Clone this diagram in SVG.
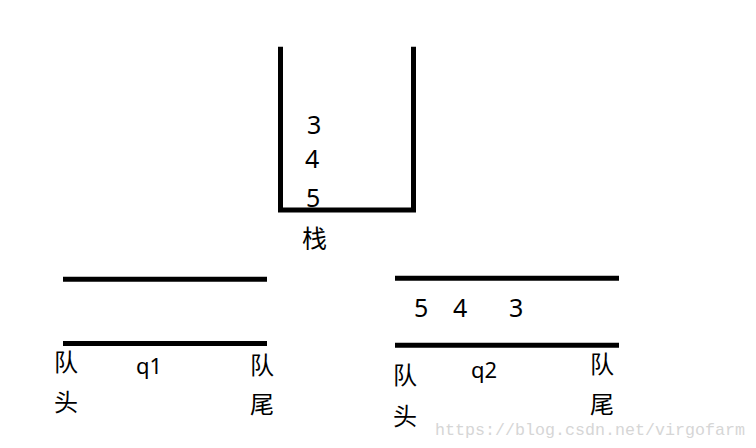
<svg xmlns="http://www.w3.org/2000/svg" width="756" height="448" viewBox="0 0 756 448">
<style>
.ln{fill:none;stroke:#000;stroke-width:5;stroke-linecap:butt;stroke-linejoin:miter}
.d{font-family:"Noto Sans","Liberation Sans",sans-serif;font-size:25px;fill:#000}
.q{font-family:"Noto Sans","Liberation Sans",sans-serif;font-size:22px;fill:#000}
.c{font-family:"Noto Sans CJK SC","Noto Sans",sans-serif;font-size:24px;fill:#000}
.wm{font-family:"Liberation Mono","DejaVu Sans Mono",monospace;font-size:17px;fill:#d6d6d6}
</style>
<rect width="756" height="448" fill="#fff"/>
<g id="stack">
<path class="ln" d="M280.5,46.7 V210 H413.5 V46.7"/>
<text class="d" x="307" y="134">3</text>
<text class="d" x="305" y="168">4</text>
<text class="d" x="306" y="207">5</text>
<text class="c" x="302" y="248" style="font-size:25px">栈</text>
</g>
<g id="q1">
<line class="ln" x1="63" y1="279.3" x2="267" y2="279.3"/>
<line class="ln" x1="63" y1="343.5" x2="267" y2="343.5"/>
<text class="c" x="54" y="371">队</text>
<text class="c" x="54" y="411">头</text>
<text class="q" x="136" y="374">q1</text>
<text class="c" x="250" y="374">队</text>
<text class="c" x="250" y="413">尾</text>
</g>
<g id="q2">
<line class="ln" x1="395" y1="278.3" x2="619" y2="278.3"/>
<line class="ln" x1="395" y1="345.3" x2="619" y2="345.3"/>
<text class="d" x="414" y="317">5</text>
<text class="d" x="453" y="317">4</text>
<text class="d" x="509" y="317">3</text>
<text class="c" x="393" y="383.5">队</text>
<text class="c" x="393" y="424.5">头</text>
<text class="q" x="471" y="378.3">q2</text>
<text class="c" x="590" y="373">队</text>
<text class="c" x="590" y="413">尾</text>
</g>
<g id="connectors"></g>
<text class="wm" x="435" y="435" textLength="310" lengthAdjust="spacingAndGlyphs">https://blog.csdn.net/virgofarm</text>
</svg>
